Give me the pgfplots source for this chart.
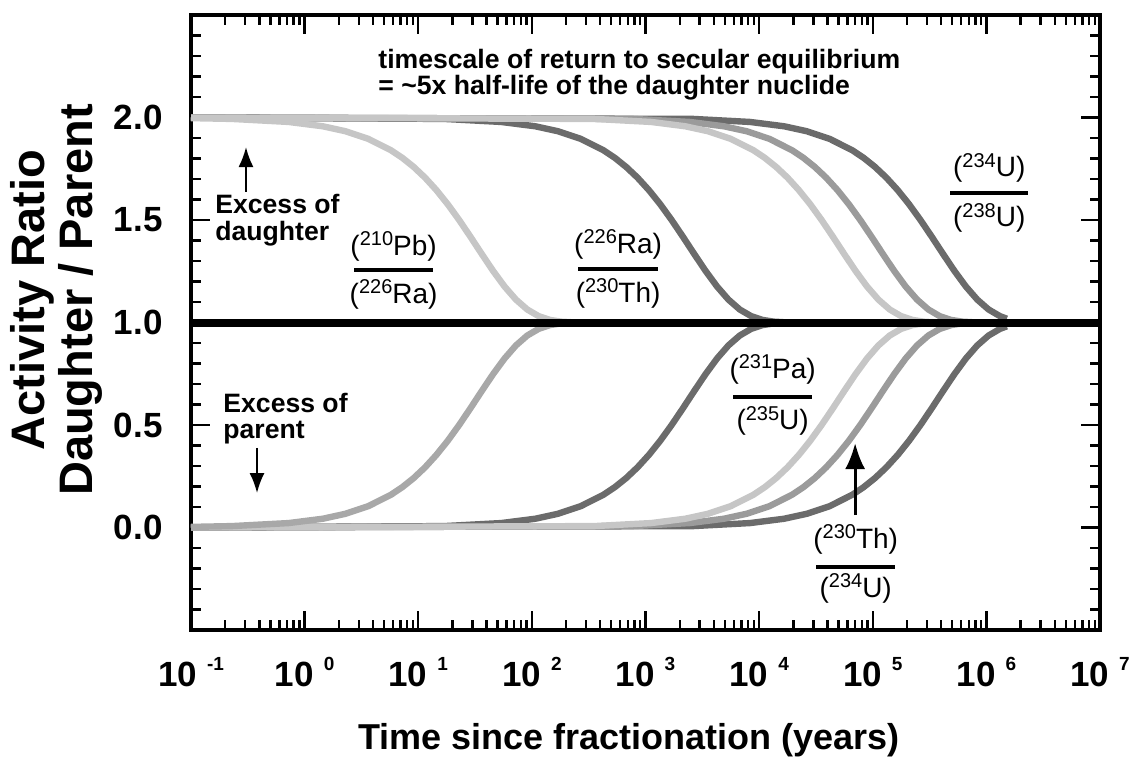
\documentclass[border=0pt]{standalone}
\usepackage{fontspec}
\setmainfont{Liberation Sans}
\usepackage{pgfplots}
\pgfplotsset{compat=1.18}
\usetikzlibrary{arrows.meta}
\definecolor{lg}{HTML}{C6C6C6}
\definecolor{mg}{HTML}{9B9B9B}
\definecolor{mgb}{HTML}{A8A8A8}
\definecolor{dg}{HTML}{6B6B6B}
\newcommand\xtl[1]{10\hspace{5pt}\raisebox{8pt}{\fontsize{9.5}{9.5}\selectfont #1}}
\newcommand\iso[2]{(\raisebox{4.8pt}{\fontsize{10}{10}\selectfont #1}#2)}
\begin{document}
\begin{tikzpicture}
\useasboundingbox (-95.5pt,-63.5pt) rectangle (471pt,315pt);
\begin{axis}[at={(0,0)}, anchor=south west, scale only axis,
  width=454.5pt, height=307.5pt,
  xmin=-1, xmax=7, ymin=-0.5, ymax=2.5, clip=false,
  axis line style={line width=1.6pt},
  tick align=inside,
  major tick length=9.5pt, minor tick length=5pt,
  tick style={black, line width=1.2pt},
  xtick={-1,0,1,2,3,4,5,6,7},
  xticklabels={\xtl{-1},\xtl{0},\xtl{1},\xtl{2},\xtl{3},\xtl{4},\xtl{5},\xtl{6},\xtl{7}},
  minor xtick={-0.699,-0.523,-0.398,-0.301,-0.222,-0.155,-0.097,-0.046,
    0.301,0.477,0.602,0.699,0.778,0.845,0.903,0.954,
    1.301,1.477,1.602,1.699,1.778,1.845,1.903,1.954,
    2.301,2.477,2.602,2.699,2.778,2.845,2.903,2.954,
    3.301,3.477,3.602,3.699,3.778,3.845,3.903,3.954,
    4.301,4.477,4.602,4.699,4.778,4.845,4.903,4.954,
    5.301,5.477,5.602,5.699,5.778,5.845,5.903,5.954,
    6.301,6.477,6.602,6.699,6.778,6.845,6.903,6.954},
  ytick={0,0.5,1,1.5,2}, yticklabels={0.0,0.5,1.0,1.5,2.0},
  minor ytick={-0.4,-0.3,-0.2,-0.1,0.1,0.2,0.3,0.4,0.6,0.7,0.8,0.9,1.1,1.2,1.3,1.4,1.6,1.7,1.8,1.9,2.1,2.2,2.3,2.4},
  ticklabel style={font=\bfseries\fontsize{17.5}{17.5}\selectfont, inner sep=0pt},
  xticklabel style={anchor=north, yshift=-13.5pt},
  yticklabel style={anchor=east, xshift=-14pt},
  every axis plot/.append style={no markers, line width=3.2pt, line join=round},
]
% upper curves (excess of daughter)
\addplot[dg] coordinates {(-1,2) (3.42,1.9931) (3.92,1.9783) (4.22,1.9572) (4.42,1.9330) (4.62,1.8960) (4.82,1.8402) (4.92,1.8032) (5.02,1.7588) (5.12,1.7065) (5.22,1.6457) (5.32,1.5766) (5.42,1.5) (5.52,1.4179) (5.62,1.3333) (5.72,1.2508) (5.82,1.1753) (5.92,1.1117) (6.02,1.0633) (6.12,1.0310) (6.18,1.0185)};
\addplot[mg] coordinates {(-1,2) (2.89,1.9931) (3.39,1.9783) (3.69,1.9572) (3.89,1.9330) (4.09,1.8960) (4.29,1.8402) (4.39,1.8032) (4.49,1.7588) (4.59,1.7065) (4.69,1.6457) (4.79,1.5766) (4.89,1.5) (4.99,1.4179) (5.09,1.3333) (5.19,1.2508) (5.29,1.1753) (5.39,1.1117) (5.49,1.0633) (5.59,1.0310) (5.69,1.0126) (5.79,1.0041) (5.89,1.0010) (6.18,1)};
\addplot[dg] coordinates {(-1,2) (1.23,1.9931) (1.73,1.9783) (2.03,1.9572) (2.23,1.9330) (2.43,1.8960) (2.63,1.8402) (2.73,1.8032) (2.83,1.7588) (2.93,1.7065) (3.03,1.6457) (3.13,1.5766) (3.23,1.5) (3.33,1.4179) (3.43,1.3333) (3.53,1.2508) (3.63,1.1753) (3.73,1.1117) (3.83,1.0633) (3.93,1.0310) (4.03,1.0126) (4.13,1.0041) (4.23,1.0010) (6.18,1)};
\addplot[lg] coordinates {(-1,2) (2.55,1.9931) (3.05,1.9783) (3.35,1.9572) (3.55,1.9330) (3.75,1.8960) (3.95,1.8402) (4.05,1.8032) (4.15,1.7588) (4.25,1.7065) (4.35,1.6457) (4.45,1.5766) (4.55,1.5) (4.65,1.4179) (4.75,1.3333) (4.85,1.2508) (4.95,1.1753) (5.05,1.1117) (5.15,1.0633) (5.25,1.0310) (5.35,1.0126) (5.45,1.0041) (5.55,1.0010) (6.18,1)};
\addplot[lg] coordinates {(-1,1.997) (-0.64,1.9931) (-0.14,1.9783) (0.16,1.9572) (0.36,1.9330) (0.56,1.8960) (0.76,1.8402) (0.86,1.8032) (0.96,1.7588) (1.06,1.7065) (1.16,1.6457) (1.26,1.5766) (1.36,1.5) (1.46,1.4179) (1.56,1.3333) (1.66,1.2508) (1.76,1.1753) (1.86,1.1117) (1.96,1.0633) (2.06,1.0310) (2.16,1.0126) (2.26,1.0041) (2.36,1.0010) (6.18,1)};
% lower curves (excess of parent)
\addplot[dg] coordinates {(-1,0) (3.42,0.0069) (3.92,0.0217) (4.22,0.0428) (4.42,0.0670) (4.62,0.1040) (4.82,0.1598) (4.92,0.1968) (5.02,0.2412) (5.12,0.2935) (5.22,0.3543) (5.32,0.4234) (5.42,0.5) (5.52,0.5821) (5.62,0.6667) (5.72,0.7492) (5.82,0.8247) (5.92,0.8883) (6.02,0.9367) (6.12,0.9690) (6.18,0.9815)};
\addplot[mg] coordinates {(-1,0) (2.89,0.0069) (3.39,0.0217) (3.69,0.0428) (3.89,0.0670) (4.09,0.1040) (4.29,0.1598) (4.39,0.1968) (4.49,0.2412) (4.59,0.2935) (4.69,0.3543) (4.79,0.4234) (4.89,0.5) (4.99,0.5821) (5.09,0.6667) (5.19,0.7492) (5.29,0.8247) (5.39,0.8883) (5.49,0.9367) (5.59,0.9690) (5.69,0.9874) (5.79,0.9959) (5.89,0.9990) (6.18,1)};
\addplot[dg] coordinates {(-1,0) (1.23,0.0069) (1.73,0.0217) (2.03,0.0428) (2.23,0.0670) (2.43,0.1040) (2.63,0.1598) (2.73,0.1968) (2.83,0.2412) (2.93,0.2935) (3.03,0.3543) (3.13,0.4234) (3.23,0.5) (3.33,0.5821) (3.43,0.6667) (3.53,0.7492) (3.63,0.8247) (3.73,0.8883) (3.83,0.9367) (3.93,0.9690) (4.03,0.9874) (4.13,0.9959) (4.23,0.9990) (6.18,1)};
\addplot[lg] coordinates {(-1,0) (2.55,0.0069) (3.05,0.0217) (3.35,0.0428) (3.55,0.0670) (3.75,0.1040) (3.95,0.1598) (4.05,0.1968) (4.15,0.2412) (4.25,0.2935) (4.35,0.3543) (4.45,0.4234) (4.55,0.5) (4.65,0.5821) (4.75,0.6667) (4.85,0.7492) (4.95,0.8247) (5.05,0.8883) (5.15,0.9367) (5.25,0.9690) (5.35,0.9874) (5.45,0.9959) (5.55,0.9990) (6.18,1)};
\addplot[mgb] coordinates {(-1,0.003) (-0.64,0.0069) (-0.14,0.0217) (0.16,0.0428) (0.36,0.0670) (0.56,0.1040) (0.76,0.1598) (0.86,0.1968) (0.96,0.2412) (1.06,0.2935) (1.16,0.3543) (1.26,0.4234) (1.36,0.5) (1.46,0.5821) (1.56,0.6667) (1.66,0.7492) (1.76,0.8247) (1.86,0.8883) (1.96,0.9367) (2.06,0.9690) (2.16,0.9874) (2.26,0.9959) (2.36,0.9990) (6.18,1)};
% secular equilibrium line
\addplot[black, line width=4pt] coordinates {(-1,1) (7,1)};

% annotations
\begin{scope}[every node/.style={inner sep=0pt, font=\bfseries\fontsize{13.3}{13.3}\selectfont}]
\node[anchor=base west] at (axis cs:0.646,2.241) {timescale of return to secular equilibrium};
\node[anchor=base west] at (axis cs:0.646,2.110) {= \textasciitilde 5x half-life of the daughter nuclide};
\node[anchor=base west] at (axis cs:-0.789,1.534) {Excess of};
\node[anchor=base west] at (axis cs:-0.789,1.402) {daughter};
\node[anchor=base west] at (axis cs:-0.718,0.559) {Excess of};
\node[anchor=base west] at (axis cs:-0.718,0.432) {parent};
\end{scope}
\draw[-{Latex[length=10pt,width=7.5pt]}, line width=1pt] (axis cs:-0.516,1.637) -- (axis cs:-0.516,1.856);
\draw[-{Latex[length=10pt,width=7.5pt]}, line width=1pt] (axis cs:-0.419,0.388) -- (axis cs:-0.419,0.168);
\draw[-{Latex[length=13pt,width=10pt]}, line width=1.5pt] (axis cs:4.845,0.061) -- (axis cs:4.845,0.412);

% fraction labels
\begin{scope}[every node/.style={inner sep=0pt, anchor=base, font=\fontsize{14}{14}\selectfont}]
\node at (axis cs:0.783,1.329) {\iso{210}{Pb}};
\node at (axis cs:0.783,1.095) {\iso{226}{Ra}};
\node at (axis cs:2.759,1.339) {\iso{226}{Ra}};
\node at (axis cs:2.759,1.100) {\iso{230}{Th}};
\node at (axis cs:6.025,1.710) {\iso{234}{U}};
\node at (axis cs:6.025,1.466) {\iso{238}{U}};
\node at (axis cs:4.119,0.729) {\iso{231}{Pa}};
\node at (axis cs:4.119,0.476) {\iso{235}{U}};
\node at (axis cs:4.850,-0.100) {\iso{230}{Th}};
\node at (axis cs:4.850,-0.339) {\iso{234}{U}};
\end{scope}
\draw[line width=1.8pt] (axis cs:0.435,1.256) -- (axis cs:1.130,1.256);
\draw[line width=1.8pt] (axis cs:2.407,1.261) -- (axis cs:3.111,1.261);
\draw[line width=1.8pt] (axis cs:5.681,1.632) -- (axis cs:6.368,1.632);
\draw[line width=1.8pt] (axis cs:3.771,0.637) -- (axis cs:4.467,0.637);
\draw[line width=1.8pt] (axis cs:4.502,-0.193) -- (axis cs:5.197,-0.193);

% axis titles
\begin{scope}[every node/.style={inner sep=0pt}]
\node[rotate=90, anchor=base, font=\bfseries\fontsize{23.5}{23.5}\selectfont] at (axis cs:-2.285,1.11) {Activity Ratio};
\node[rotate=90, anchor=base, font=\bfseries\fontsize{23.5}{23.5}\selectfont] at (axis cs:-1.871,1.11) {Daughter / Parent};
\node[anchor=north, font=\bfseries\fontsize{18}{18}\selectfont] at (axis cs:2.856,-0.954) {Time since fractionation (years)};
\end{scope}
\end{axis}
\end{tikzpicture}
\end{document}
